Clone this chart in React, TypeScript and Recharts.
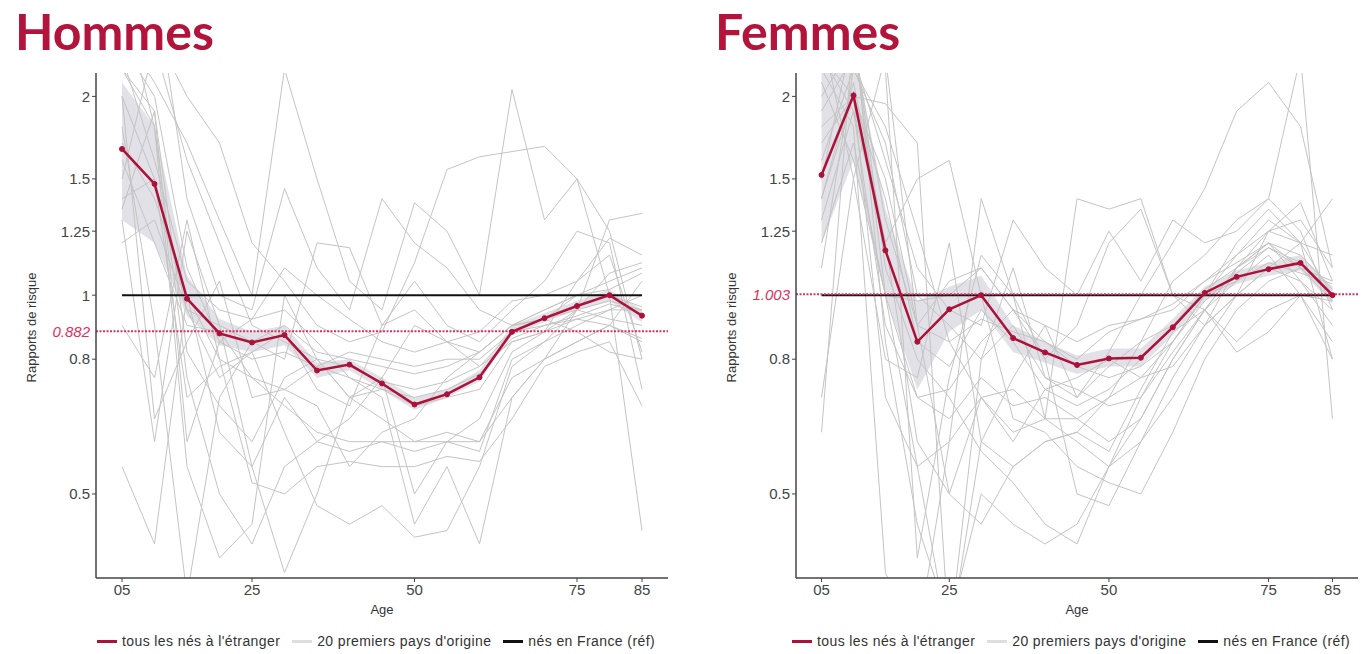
import {
  ComposedChart,
  Line,
  Area,
  XAxis,
  YAxis,
  ReferenceLine,
} from 'recharts';

// Age groups (x axis) and tick labels
const AGES = [5, 10, 15, 20, 25, 30, 35, 40, 45, 50, 55, 60, 65, 70, 75, 80, 85];
const X_TICKS = [5, 25, 50, 75, 85];
const Y_TICKS_H = [0.5, 0.8, 1, 1.25, 1.5, 2];
const Y_TICKS_F = [0.5, 0.8, 1.25, 1.5, 2];

// Hommes: all foreign-born (red) with its confidence band
const HOMMES_ALL = [1.665, 1.474, 0.988, 0.875, 0.848, 0.87, 0.769, 0.785, 0.735, 0.683, 0.708, 0.751, 0.88, 0.923, 0.963, 1.0, 0.931];
const HOMMES_LO = [1.3, 1.2, 0.93, 0.84, 0.82, 0.84, 0.75, 0.77, 0.72, 0.67, 0.7, 0.74, 0.87, 0.91, 0.95, 0.98, 0.91];
const HOMMES_HI = [2.1, 1.8, 1.07, 0.92, 0.88, 0.9, 0.79, 0.8, 0.75, 0.7, 0.72, 0.77, 0.9, 0.94, 0.98, 1.02, 0.95];
const HOMMES_MEAN = 0.882;

// Hommes: 20 main countries of origin
const HOMMES_PAYS = [
  [2.6, 3.0, 1.4, 1.0, 0.95, 1.45, 1.1, 0.95, 1.4, 1.2, 1.1, 0.95, 0.9, 0.92, 1.0, 1.05, 1.1],
  [0.55, 0.42, 1.0, 0.62, 0.55, 0.7, 0.6, 0.65, 0.75, 0.9, 0.85, 0.82, 0.9, 0.95, 1.0, 1.02, 1.08],
  [1.5, 2.4, 1.6, 1.2, 0.9, 0.85, 0.8, 0.78, 0.74, 0.72, 0.74, 0.78, 0.88, 0.92, 0.95, 0.98, 0.95],
  [2.2, 1.8, 0.55, 0.4, 0.45, 1.0, 0.8, 0.7, 0.72, 0.68, 0.7, 0.72, 0.85, 0.88, 0.95, 0.92, 0.9],
  [1.3, 0.6, 1.25, 0.9, 0.55, 0.38, 0.5, 0.7, 0.65, 0.6, 0.62, 0.6, 0.75, 0.8, 0.85, 0.9, 0.85],
  [2.8, 1.8, 0.75, 0.5, 0.42, 0.55, 0.6, 0.58, 0.6, 0.58, 0.6, 0.58, 0.8, 0.85, 0.9, 0.95, 1.0],
  [1.8, 0.9, 0.35, 0.7, 0.85, 0.8, 1.2, 1.18, 0.9, 0.95, 0.85, 0.78, 0.85, 0.88, 0.92, 0.95, 0.95],
  [2.4, 2.0, 1.1, 0.85, 0.8, 0.82, 0.78, 0.75, 0.72, 0.7, 0.72, 0.76, 0.86, 0.9, 0.93, 0.97, 0.94],
  [1.4, 1.5, 0.95, 0.75, 0.82, 0.88, 0.72, 0.68, 0.9, 1.05, 0.9, 0.85, 0.95, 1.05, 1.25, 1.2, 0.72],
  [2.0, 0.65, 0.85, 1.05, 0.7, 0.72, 0.68, 0.55, 0.62, 0.65, 0.75, 0.82, 0.9, 0.92, 0.88, 0.82, 0.8],
  [1.6, 1.2, 0.9, 0.88, 0.75, 0.72, 0.78, 0.82, 0.8, 0.78, 0.8, 0.8, 0.88, 0.9, 0.92, 0.9, 0.86],
  [3.0, 2.5, 2.0, 1.7, 1.2, 1.05, 0.9, 0.85, 0.88, 1.12, 1.55, 1.62, 1.65, 1.68, 1.5, 1.25, 0.8],
  [2.2, 1.9, 0.6, 0.85, 0.92, 0.95, 0.85, 0.75, 0.7, 0.45, 0.55, 0.42, 0.7, 0.8, 0.95, 1.3, 1.33],
  [2.5, 2.1, 1.7, 1.3, 1.0, 2.2, 1.5, 1.05, 0.95, 1.38, 1.25, 1.0, 2.05, 1.3, 1.5, 1.0, 0.44],
  [1.7, 1.4, 1.0, 0.8, 0.75, 0.68, 0.62, 0.6, 0.6, 0.6, 0.6, 0.6, 0.7, 0.8, 0.85, 0.9, 1.05],
  [0.9, 0.75, 1.3, 0.8, 0.52, 0.5, 0.55, 0.56, 0.55, 0.55, 0.57, 0.56, 0.65, 0.78, 0.82, 0.85, 0.68],
  [1.35, 1.9, 0.82, 0.68, 0.6, 0.75, 0.8, 0.7, 0.75, 0.5, 0.6, 0.65, 0.82, 0.88, 1.05, 1.22, 1.15],
  [2.0, 1.5, 0.7, 0.78, 0.82, 0.62, 0.48, 0.45, 0.48, 0.43, 0.44, 0.55, 0.78, 0.85, 0.95, 1.08, 1.12],
  [1.2, 1.3, 0.95, 0.9, 0.85, 0.9, 0.82, 0.8, 0.78, 0.76, 0.78, 0.82, 0.9, 0.95, 1.0, 1.0, 0.96],
  [2.3, 1.6, 1.05, 0.95, 0.92, 1.1, 1.0, 0.92, 0.85, 0.82, 0.85, 0.88, 0.98, 1.0, 1.05, 1.15, 0.82],
];

// Femmes: all foreign-born (red) with its confidence band
const FEMMES_ALL = [1.521, 2.007, 1.169, 0.85, 0.952, 1.0, 0.861, 0.819, 0.784, 0.802, 0.804, 0.894, 1.008, 1.066, 1.095, 1.119, 1.0];
const FEMMES_LO = [1.2, 1.6, 1.0, 0.72, 0.88, 0.95, 0.82, 0.79, 0.76, 0.78, 0.78, 0.87, 0.98, 1.04, 1.07, 1.09, 0.97];
const FEMMES_HI = [2.2, 2.4, 1.35, 0.98, 1.03, 1.07, 0.9, 0.85, 0.81, 0.83, 0.83, 0.92, 1.03, 1.09, 1.12, 1.15, 1.03];
const FEMMES_MEAN = 1.003;

// Femmes: 20 main countries of origin
const FEMMES_PAYS = [
  [0.62, 2.5, 1.0, 0.55, 0.3, 0.6, 0.75, 0.9, 0.7, 0.82, 1.0, 1.2, 1.45, 1.9, 2.1, 1.8, 1.1],
  [0.7, 1.5, 2.3, 0.9, 0.5, 0.45, 0.55, 0.6, 0.62, 0.7, 0.85, 1.05, 1.15, 1.3, 1.4, 2.3, 0.65],
  [1.8, 2.0, 1.95, 1.7, 0.3, 0.8, 0.9, 0.75, 0.72, 0.68, 0.7, 0.85, 1.0, 1.2, 1.35, 1.2, 0.8],
  [2.4, 2.6, 0.85, 0.45, 0.32, 0.5, 0.45, 0.42, 0.45, 0.55, 0.6, 0.7, 0.85, 1.0, 1.1, 1.2, 1.4],
  [1.4, 2.1, 1.2, 1.5, 1.6, 1.0, 0.65, 0.62, 0.55, 0.52, 0.5, 0.62, 0.8, 0.95, 1.05, 1.1, 1.0],
  [1.3, 1.9, 0.9, 0.7, 0.72, 0.85, 0.95, 0.8, 0.9, 1.2, 1.35, 1.0, 0.9, 1.0, 1.25, 1.38, 1.05],
  [2.2, 1.8, 0.38, 0.3, 0.6, 0.7, 0.62, 0.65, 1.4, 1.35, 1.4, 1.0, 0.95, 0.85, 0.95, 1.0, 0.85],
  [1.6, 2.2, 1.8, 1.25, 0.85, 0.7, 0.6, 0.72, 0.75, 0.8, 0.75, 0.78, 0.9, 1.1, 1.2, 1.05, 0.95],
  [2.0, 2.4, 1.3, 0.9, 1.05, 1.1, 0.95, 0.85, 0.8, 0.88, 0.92, 0.95, 1.05, 1.15, 1.25, 1.3, 1.1],
  [1.2, 1.7, 1.0, 0.7, 0.65, 0.75, 0.68, 0.7, 0.65, 0.7, 0.75, 0.85, 1.0, 1.15, 1.3, 1.2, 1.0],
  [2.6, 2.8, 2.2, 0.4, 0.75, 1.15, 1.0, 0.65, 0.6, 0.55, 0.7, 0.82, 0.95, 1.05, 1.15, 1.0, 0.8],
  [1.9, 2.3, 1.6, 1.1, 0.95, 0.9, 1.3, 1.1, 1.0, 1.25, 1.05, 1.3, 1.2, 1.25, 1.4, 1.25, 0.95],
  [2.3, 2.0, 0.7, 0.55, 0.6, 1.4, 1.0, 0.8, 0.5, 0.48, 0.6, 0.75, 0.9, 1.0, 1.1, 1.05, 0.9],
  [1.5, 2.5, 1.1, 0.8, 0.7, 0.58, 0.52, 0.45, 0.42, 0.55, 0.65, 0.8, 0.95, 1.1, 1.2, 1.1, 1.05],
  [2.1, 1.6, 1.0, 0.98, 1.0, 1.1, 0.95, 0.9, 0.85, 0.9, 0.92, 0.97, 1.05, 1.12, 1.2, 1.15, 1.02],
  [1.7, 2.0, 1.4, 0.85, 0.78, 0.95, 0.85, 0.72, 0.68, 0.72, 0.8, 0.9, 1.02, 1.1, 1.18, 1.1, 0.98],
  [2.5, 1.5, 0.8, 0.75, 1.2, 0.6, 0.55, 0.6, 0.62, 0.58, 0.72, 0.88, 0.95, 0.82, 0.88, 1.0, 0.98],
  [1.1, 2.2, 1.7, 1.0, 0.9, 0.8, 1.1, 0.75, 0.7, 0.78, 0.85, 0.9, 1.0, 1.05, 1.12, 1.08, 1.04],
  [2.3, 1.9, 1.2, 0.6, 0.5, 0.7, 0.72, 0.65, 0.65, 0.6, 0.65, 0.8, 0.95, 1.1, 1.25, 1.2, 1.15],
  [1.4, 2.0, 1.5, 0.9, 0.85, 0.92, 0.88, 0.85, 0.78, 0.75, 0.78, 0.85, 0.98, 1.08, 1.18, 1.12, 1.0],
];

const REF_FRANCE = 1;

const RED = '#ad1038';
const MEAN_RED = '#e0305f';
const GREY = '#c4c4c4';
const AXIS = '#444';
const FONT = 'Arial, "Liberation Sans", sans-serif';

const LEGEND = [
  { label: "tous les nés à l'étranger", color: RED },
  { label: "20 premiers pays d'origine", color: '#dedede' },
  { label: 'nés en France (réf)', color: '#111' },
];

function buildRows(all: number[], lo: number[], hi: number[], pays: number[][]) {
  return AGES.map((age, i) => {
    const row: Record<string, any> = {
      age,
      all: all[i],
      band: [lo[i], hi[i]],
      ref: REF_FRANCE,
    };
    pays.forEach((p, k) => {
      row['p' + k] = p[i];
    });
    return row;
  });
}

function YLabel(props: any) {
  const vb = props.viewBox || {};
  const x = (vb.x ?? 0) + 31;
  const y = (vb.y ?? 0) + (vb.height ?? 0) / 2 + 2;
  return (
    <text
      x={x}
      y={y}
      transform={`rotate(-90, ${x}, ${y})`}
      textAnchor="middle"
      dominantBaseline="central"
      fontSize={13}
      fill="#333"
      fontFamily={FONT}
    >
      Rapports de risque
    </text>
  );
}

interface PanelProps {
  title: string;
  left: number;
  width: number;
  all: number[];
  lo: number[];
  hi: number[];
  pays: number[][];
  mean: number;
  yTicks: number[];
}

function Panel({ title, left, width, all, lo, hi, pays, mean, yTicks }: PanelProps) {
  const rows = buildRows(all, lo, hi, pays);
  const rightMargin = 12;
  const plotLeft = 96;
  const plotW = width - plotLeft - rightMargin;

  return (
    <div style={{ position: 'absolute', left, top: 0, width, height: 654 }}>
      <div
        style={{
          position: 'absolute',
          left: 15,
          top: 0,
          fontFamily: 'Lato, sans-serif',
          fontWeight: 700,
          fontSize: 50,
          lineHeight: '62px',
          color: '#b3143c',
        }}
      >
        {title}
      </div>
      <div style={{ position: 'absolute', left: 0, top: 60 }}>
        <ComposedChart
          width={width}
          height={560}
          data={rows}
          margin={{ top: 13, right: rightMargin, bottom: 0, left: 0 }}
        >
          <XAxis
            dataKey="age"
            type="number"
            domain={[1, 89]}
            ticks={X_TICKS}
            tickFormatter={(v: number) => (v < 10 ? '0' + v : String(v))}
            height={42}
            tickSize={4}
            axisLine={{ stroke: AXIS, strokeWidth: 1.5 }}
            tickLine={{ stroke: AXIS }}
            tick={{ fill: '#444', fontSize: 15, fontFamily: FONT }}
            label={{ value: 'Age', position: 'insideBottom', offset: 6, fill: '#333', fontSize: 13, fontFamily: FONT }}
          />
          <YAxis
            type="number"
            scale="log"
            domain={[0.373, 2.17]}
            allowDataOverflow
            ticks={yTicks}
            interval={0}
            width={plotLeft}
            tickSize={4}
            tickFormatter={(v: number) => String(v)}
            axisLine={{ stroke: AXIS, strokeWidth: 1.5 }}
            tickLine={{ stroke: AXIS }}
            tick={{ fill: '#444', fontSize: 15, fontFamily: FONT }}
            label={<YLabel />}
          />
          {pays.map((_, k) => (
            <Line
              key={k}
              dataKey={'p' + k}
              stroke={GREY}
              strokeWidth={1}
              dot={false}
              activeDot={false}
              isAnimationActive={false}
            />
          ))}
          <Area
            dataKey="band"
            stroke="none"
            fill="#c9c9d3"
            fillOpacity={0.55}
            activeDot={false}
            isAnimationActive={false}
          />
          <Line
            dataKey="ref"
            stroke="#111"
            strokeWidth={2}
            dot={false}
            activeDot={false}
            isAnimationActive={false}
          />
          <ReferenceLine
            y={mean}
            stroke={MEAN_RED}
            strokeWidth={2}
            strokeDasharray="2 1.5"
            label={{
              value: String(mean),
              position: 'left',
              offset: 6,
              fill: MEAN_RED,
              fontSize: 15,
              fontStyle: 'italic',
              fontFamily: FONT,
            }}
          />
          <Line
            dataKey="all"
            stroke={RED}
            strokeWidth={2.5}
            dot={{ r: 2.5, fill: RED, stroke: RED, strokeWidth: 1 }}
            activeDot={false}
            isAnimationActive={false}
          />
        </ComposedChart>
      </div>
      <div
        style={{
          position: 'absolute',
          left: plotLeft,
          width: plotW,
          top: 633,
          display: 'flex',
          justifyContent: 'center',
          alignItems: 'center',
          fontFamily: FONT,
          fontSize: 14,
          letterSpacing: 0.4,
          color: '#333',
          whiteSpace: 'nowrap',
        }}
      >
        {LEGEND.map((item) => (
          <span key={item.label} style={{ display: 'inline-flex', alignItems: 'center', marginRight: 12 }}>
            <span
              style={{
                display: 'inline-block',
                width: 20,
                height: 3,
                background: item.color,
                marginRight: 5,
              }}
            />
            {item.label}
          </span>
        ))}
      </div>
    </div>
  );
}

export default function App() {
  return (
    <div
      style={{
        position: 'absolute',
        left: 0,
        top: 0,
        width: 1370,
        height: 654,
        overflow: 'hidden',
        background: '#fff',
      }}
    >
      <Panel
        title="Hommes"
        left={0}
        width={680}
        all={HOMMES_ALL}
        lo={HOMMES_LO}
        hi={HOMMES_HI}
        pays={HOMMES_PAYS}
        mean={HOMMES_MEAN}
        yTicks={Y_TICKS_H}
      />
      <Panel
        title="Femmes"
        left={700}
        width={670}
        all={FEMMES_ALL}
        lo={FEMMES_LO}
        hi={FEMMES_HI}
        pays={FEMMES_PAYS}
        mean={FEMMES_MEAN}
        yTicks={Y_TICKS_F}
      />
    </div>
  );
}
